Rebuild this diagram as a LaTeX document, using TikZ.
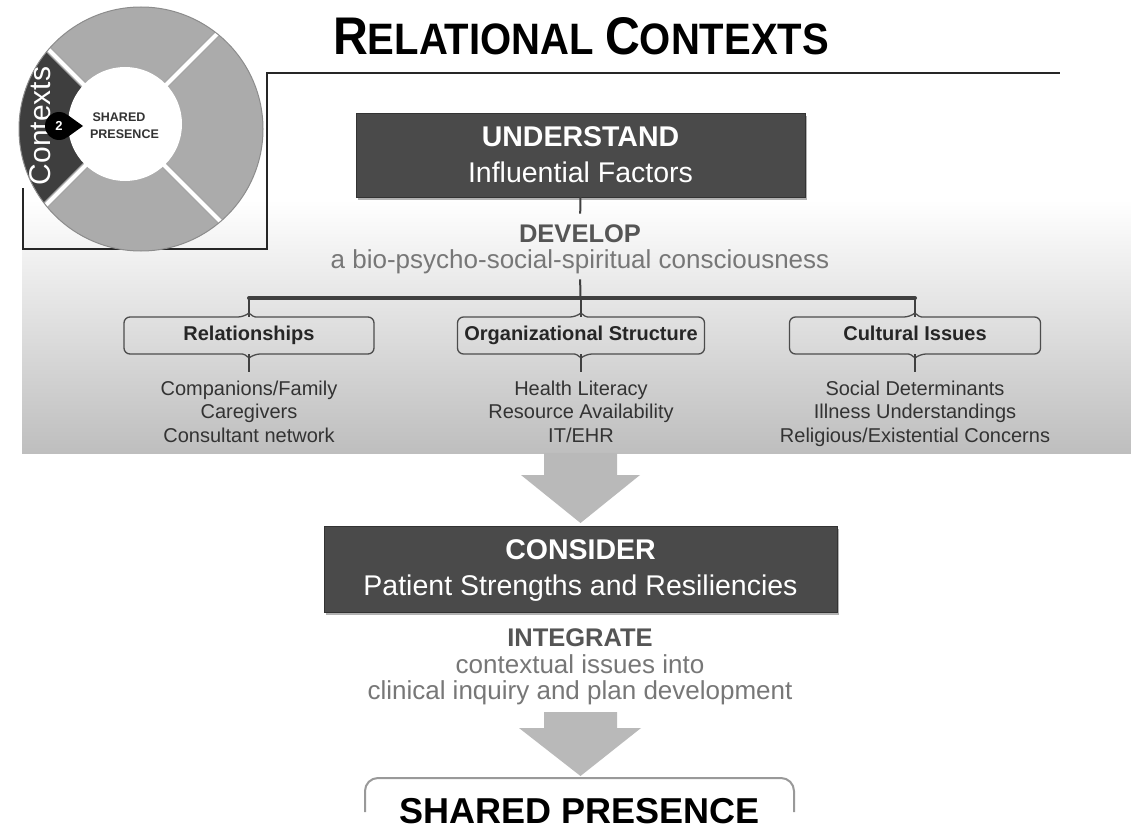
\documentclass[tikz,border=0pt]{standalone}
\usepackage{fontspec}
\setmainfont{Liberation Sans}
\usetikzlibrary{shadows,calc}
\definecolor{boxgray}{HTML}{4A4A4A}
\definecolor{ringlight}{HTML}{ABABAB}
\definecolor{ringdark}{HTML}{3E3E3E}
\definecolor{arrowgray}{HTML}{B9B9B9}
\definecolor{panelbot}{HTML}{BEBEBE}
\definecolor{txtgray}{HTML}{555555}
\definecolor{txtlight}{HTML}{777777}
\definecolor{listgray}{HTML}{333333}
\definecolor{linegray}{HTML}{404040}
\newcommand{\brbox}[1]{%
  \draw[boxline] let \p1=(#1.north west), \p2=(#1.south east), \p3=(#1.center) in
    (\x1,\y3) [rounded corners=6pt] -- (\x1,\y1) -- (\x3-5pt,\y1)
    [rounded corners=1.5pt] -- (\x3,\y1+4pt) -- (\x3+5pt,\y1)
    [rounded corners=6pt] -- (\x2,\y1) -- (\x2,\y2) -- (\x3+5pt,\y2)
    [rounded corners=1.5pt] -- (\x3,\y2-4pt) -- (\x3-5pt,\y2)
    [rounded corners=6pt] -- (\x1,\y2) -- cycle;}
\begin{document}
\begin{tikzpicture}[x=1pt,y=-1pt,
  every node/.style={inner sep=0pt, outer sep=0pt},
  darkbox/.style={rectangle, draw=black!80, line width=0.8pt, fill=boxgray, align=center, text=white,
    drop shadow={shadow xshift=2pt, shadow yshift=-3pt, opacity=0.3, fill=black}},
  conn/.style={draw=linegray, line width=2pt},
  busline/.style={draw=linegray, line width=4pt},
  boxline/.style={draw=black!70, line width=1.3pt},
  boxlabel/.style={font=\fontsize{20}{24}\selectfont\bfseries, text=black!85, minimum height=37pt, text height=14.6pt, text depth=4.2pt},
  listtext/.style={anchor=base, font=\fontsize{20}{24}\selectfont, text=listgray},
  headtext/.style={anchor=base, font=\fontsize{25.5}{30}\selectfont\bfseries, text=txtgray},
  subtext/.style={anchor=base, font=\fontsize{26}{30}\selectfont, text=txtlight},
  bigarrow/.style={fill=arrowgray, draw=none},
]
\useasboundingbox (0,0) rectangle (1131,829);
\clip (0,0) rectangle (1131,829);
\fill[white] (0,0) rectangle (1131,829);

% gradient panel
\shade[top color=white, bottom color=panelbot] (22,200) rectangle (1131,453);

% frame and title rule
\draw[black!85, line width=2pt] (23,188) -- (23,249) -- (267,249) -- (267,73) -- (1060,73);

% title
\node[anchor=base] (title) at (581,55) {\scalebox{0.91}[1]{\bfseries\fontsize{53}{60}\selectfont R\fontsize{44}{50}\selectfont ELATIONAL \fontsize{53}{60}\selectfont C\fontsize{44}{50}\selectfont ONTEXTS}};

% ring
\begin{scope}
  \clip (141,129) circle[radius=122];
  \fill[ringlight] (141,129) circle[radius=122];
  \fill[ringdark] (125,126) -- (-30,-29) -- (-30,281) -- cycle;
  \draw[black!35, line width=7pt] (25,26) -- (225,226) (25,226) -- (225,26);
  \draw[white, line width=4pt] (25,26) -- (225,226) (25,226) -- (225,26);
\end{scope}
\draw[black!45, line width=1pt] (141,129) circle[radius=122];
\fill[white] (125,124) circle[radius=57];
\node[rotate=90, text=white, font=\fontsize{30}{30}\selectfont] (ctx) at (40,126) {Contexts};
\node[circle, fill=black, minimum size=28pt, text=white, font=\fontsize{13}{13}\selectfont\bfseries] (badge) at (59,126) {2};
\fill[black] (67,114.5) -- (83,126) -- (67,137.5) -- cycle;
\node[anchor=base, font=\fontsize{12.5}{14}\selectfont\bfseries, text=black!80] (sp1) at (119,122) {SHARED};
\node[anchor=base, font=\fontsize{12.5}{14}\selectfont\bfseries, text=black!80] (sp2) at (124.5,139) {PRESENCE};

% understand box
\node[darkbox, font=\fontsize{28.5}{36}\selectfont, minimum width=449pt, minimum height=84pt] (u) at (580.5,155)
  {{\bfseries UNDERSTAND}\\Influential Factors};

\node[headtext] (dev1) at (580,242) {DEVELOP};
\node[subtext] (dev2) at (580,268) {a bio-psycho-social-spiritual consciousness};
\draw[conn, shorten >=10.5pt] (u.south) -- (dev1.north);

% tree
\coordinate (bar) at (580.5,298);
\node[boxlabel, minimum width=250pt] (rel) at (249,335.5) {Relationships};
\node[boxlabel, minimum width=247pt] (org) at (581,335.5) {Organizational Structure};
\node[boxlabel, minimum width=251pt] (cul) at (915,335.5) {Cultural Issues};
\draw[conn, shorten <=6pt] (dev2.south) -- (bar);
\draw[conn] (rel.north |- bar) -- (rel.north);
\draw[conn] (org.north |- bar) -- (org.north);
\draw[conn] (cul.north |- bar) -- (cul.north);
\draw[busline, line cap=round] (rel.north |- bar) -- (cul.north |- bar);
\brbox{rel}
\brbox{org}
\brbox{cul}

\node[listtext] (rel1) at (249,395) {Companions/Family};
\node[listtext] (rel2) at (249,418.5) {Caregivers};
\node[listtext] (rel3) at (249,442) {Consultant network};
\node[listtext] (org1) at (581,395) {Health Literacy};
\node[listtext] (org2) at (581,418.5) {Resource Availability};
\node[listtext] (org3) at (581,442) {IT/EHR};
\node[listtext] (cul1) at (915,395) {Social Determinants};
\node[listtext] (cul2) at (915,418.5) {Illness Understandings};
\node[listtext] (cul3) at (915,442) {Religious/Existential Concerns};
\draw[conn, shorten >=8.5pt] (rel.south) -- (rel1.north);
\draw[conn, shorten >=8.5pt] (org.south) -- (org1.north);
\draw[conn, shorten >=8.5pt] (cul.south) -- (cul1.north);

% consider box
\node[darkbox, font=\fontsize{28.5}{35.5}\selectfont, minimum width=513pt, minimum height=86pt] (c) at (580.5,569)
  {\rule{0pt}{23pt}{\bfseries CONSIDER}\\Patient Strengths and Resiliencies};

% arrow 1
\fill[bigarrow] (544,453) -- (617,453) -- (617,475) -- (640,475) -- (580.5,523) -- (521,475) -- (544,475) -- cycle;

\node[headtext] (int1) at (580,646) {INTEGRATE};
\node[subtext] (int2) at (580,673) {contextual issues into};
\node[subtext] (int3) at (580,699) {clinical inquiry and plan development};

% arrow 2
\fill[bigarrow] (544,712) -- (617,712) -- (617,728) -- (641,728) -- (580.5,776) -- (519,728) -- (544,728) -- cycle;

% shared presence
\draw[black!40, line width=2pt, rounded corners=13pt] (365,812) -- (365,778) -- (794,778) -- (794,812);
\node[anchor=base, font=\fontsize{36}{40}\selectfont\bfseries, text=black] (shared) at (580,823) {SHARED PRESENCE};
\end{tikzpicture}
\end{document}
